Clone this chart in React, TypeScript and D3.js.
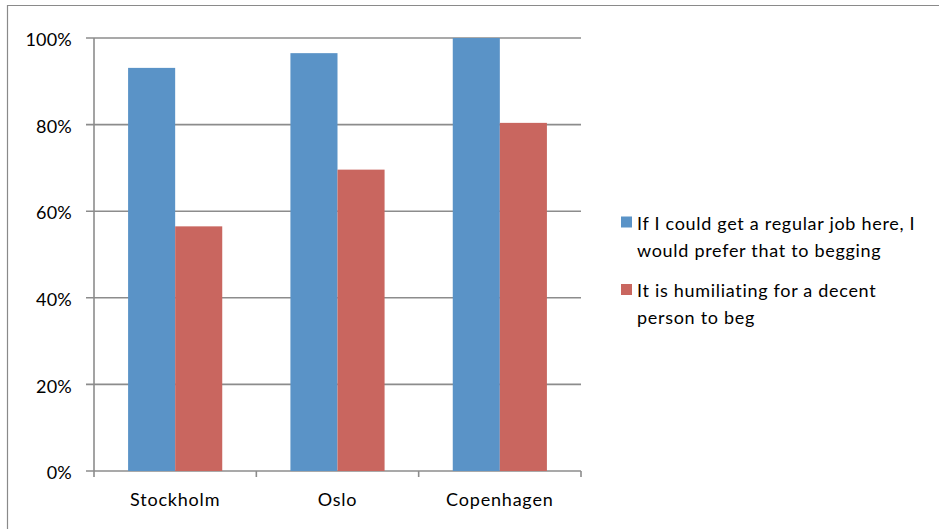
import React from "react";
import * as d3 from "d3";

const categories = ["Stockholm", "Oslo", "Copenhagen"];
const seriesNames = [
  ["If I could get a regular job here, I", "would prefer that to begging"],
  ["It is humiliating for a decent", "person to beg"],
];
const jobValues = [0.931, 0.965, 1.0];
const humiliatingValues = [0.565, 0.696, 0.804];
const yTicks = [0, 0.2, 0.4, 0.6, 0.8, 1.0];
const colors = ["#5A93C7", "#C9665F"];

const W = 939;
const H = 529;
const FONT = "Lato, 'Open Sans', sans-serif";

export default function App() {
  const left = 94;
  const right = 581;
  const top = 38;
  const bottom = 471;
  const x = d3.scaleBand().domain(categories).range([left, right]).paddingInner(0).paddingOuter(0);
  const y = d3.scaleLinear().domain([0, 1]).range([bottom, top]);
  const series = [jobValues, humiliatingValues];
  const bw = x.bandwidth();
  const barW = bw * 0.29;
  const inner = d3.scaleBand().domain(["0", "1"]).range([0, barW * 2]);
  const fmt = d3.format(".0%");
  const grid = "#8c8c8c";

  return (
    <svg width={W} height={H} style={{ position: "absolute", left: 0, top: 0, background: "#fff" }}>
      <rect x={0} y={0} width={W} height={H} fill="#fff" />
      <path d={`M7.5,${H} V5.5 H${W}`} fill="none" stroke="#8a8a8a" strokeWidth={1.2} />
      {yTicks.map((t) => (
        <g key={t}>
          <line x1={left - 8} x2={right} y1={y(t)} y2={y(t)} stroke={grid} strokeWidth={1.6} />
          <text x={72} y={y(t)} dy="0.45em" textAnchor="end" fontFamily={FONT} fontSize={18} letterSpacing={0.2} fill="#000">
            {fmt(t)}
          </text>
        </g>
      ))}
      <line x1={left} x2={left} y1={top} y2={bottom + 6} stroke={grid} strokeWidth={1.6} />
      {categories.map((c, i) => (
        <line key={"t" + i} x1={x(c)! + bw} x2={x(c)! + bw} y1={bottom} y2={bottom + 6} stroke={grid} strokeWidth={1.6} />
      ))}
      {categories.map((c, i) =>
        series.map((s, j) => (
          <rect
            key={c + j}
            x={x(c)! + (bw - barW * 2) / 2 + inner(String(j))!}
            y={y(s[i])}
            width={inner.bandwidth()}
            height={y(0) - y(s[i])}
            fill={colors[j]}
          />
        ))
      )}
      {categories.map((c) => (
        <text key={"l" + c} x={x(c)! + bw / 2} y={bottom + 35} textAnchor="middle" fontFamily={FONT} fontSize={18} letterSpacing={0.8} fill="#000">
          {c}
        </text>
      ))}
      {seriesNames.map((lines, j) => {
        const ly = 222 + j * 67.5;
        return (
          <g key={"leg" + j}>
            <rect x={621} y={ly - 5.5} width={11} height={11} fill={colors[j]} />
            {lines.map((ln, k) => (
              <text key={k} x={637} y={ly + 1.5 + k * 27} dy="0.36em" fontFamily={FONT} fontSize={18} letterSpacing={0.7} fill="#000">
                {ln}
              </text>
            ))}
          </g>
        );
      })}
    </svg>
  );
}
